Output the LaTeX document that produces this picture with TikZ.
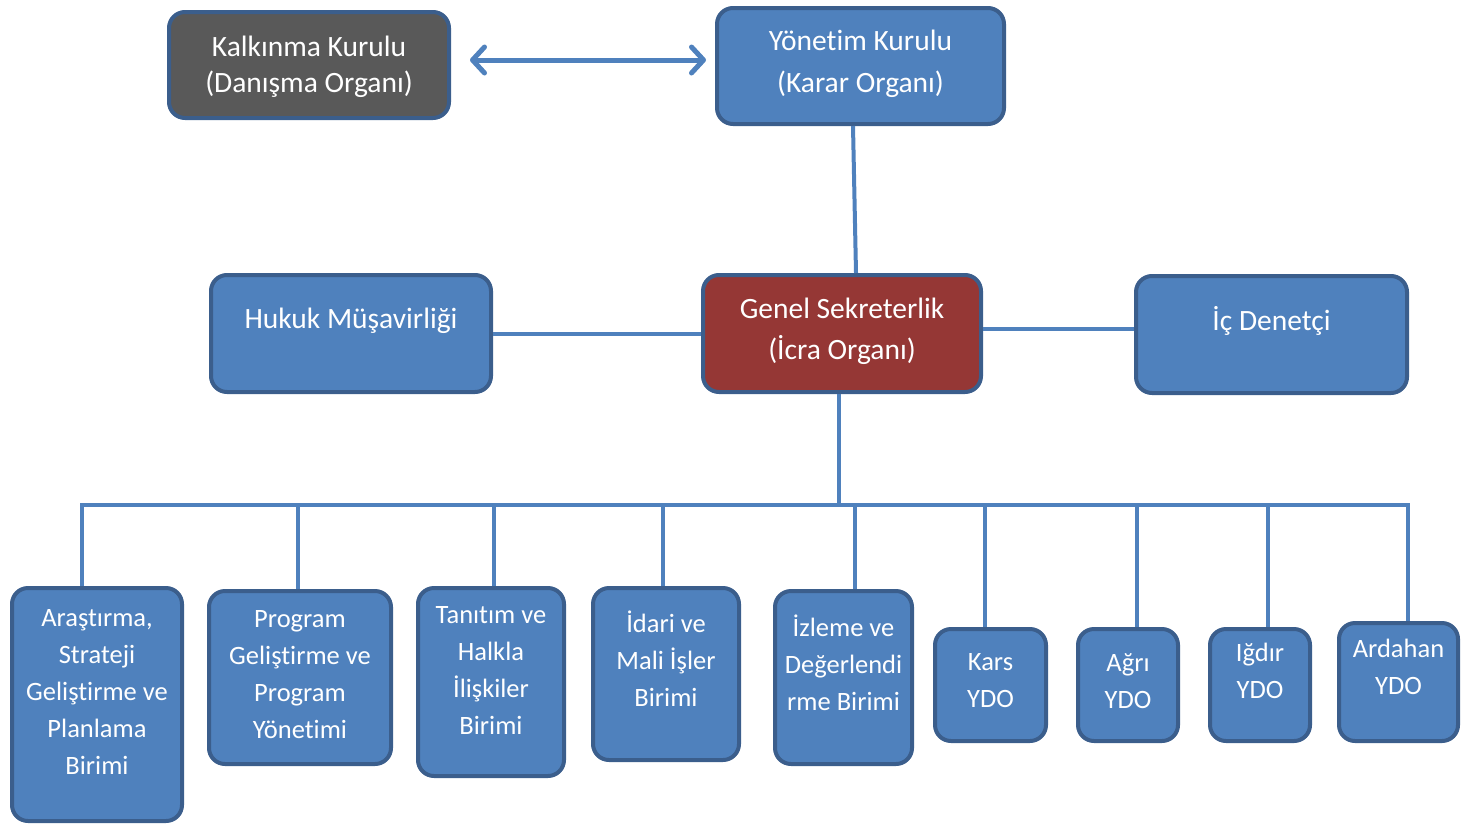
\documentclass[tikz,border=0pt]{standalone}
\usepackage{fontspec}
\setmainfont{Carlito}[Ligatures={NoCommon}]
\usetikzlibrary{arrows.meta}

\definecolor{kutumavi}{HTML}{4F81BD}
\definecolor{kenar}{HTML}{3B5E8C}
\definecolor{kirmizi}{HTML}{953735}
\definecolor{gri}{HTML}{595959}

\tikzset{
  kutu/.style={draw=kenar, line width=4pt, fill=kutumavi, rounded corners=16pt, inner sep=0pt},
  yazi/.style={text=white, align=center, font=\fontsize{26.5}{37}\selectfont},
  ustyazi/.style={yazi, font=\fontsize{29.5}{#1}\selectfont},
  hat/.style={draw=kutumavi, line width=4pt},
  cift/.style={draw=kutumavi, line width=5pt, line cap=round,
    >={Straight Barb[length=12pt,width=26pt,round]}, <->},
}

\begin{document}
\begin{tikzpicture}[x=1pt,y=-1pt]
    \useasboundingbox (0,0) rectangle (1474,825);

    % Kurullar
    \node[kutu, fill=gri, minimum width=280, minimum height=106,
      label={[ustyazi=36, yshift=-2]center:{Kalkınma Kurulu\\(Danışma Organı)}}] (kalkinma) at (309,65) {};
    \node[kutu, minimum width=287, minimum height=116,
      label={[ustyazi=42, yshift=2]center:{Yönetim Kurulu\\(Karar Organı)}}] (yonetim) at (860.5,66) {};
    \draw[cift] ([xshift=19,yshift=5]kalkinma.east) -- ([xshift=-9,yshift=5]kalkinma.east -| yonetim.west);

    % Genel sekreterlik ve yanındakiler
    \node[kutu, fill=kirmizi, minimum width=278, minimum height=117,
      label={[ustyazi=41, yshift=2]center:{Genel Sekreterlik\\(İcra Organı)}}] (genel) at (842,333.5) {};
    \node[kutu, minimum width=280, minimum height=117,
      label={[ustyazi=36, yshift=13]center:Hukuk Müşavirliği}] (hukuk) at (351,333.5) {};
    \node[kutu, minimum width=271, minimum height=117,
      label={[ustyazi=36, yshift=14]center:İç Denetçi}] (denetci) at (1271.5,334.5) {};

    \draw[hat] (853,0 |- yonetim.south) -- (856,0 |- genel.north);
    \draw[hat] (hukuk.east) -- (genel.west);
    \draw[hat] ([yshift=5]genel.east) -- ([yshift=5]genel.east -| denetci.west);

    % Birimler
    \draw[hat] (839,0 |- genel.south) -- (839,505);
    \draw[hat, line cap=rect] (82,505) -- (1408,505);
    \foreach \ad/\cx/\cy/\w/\h/\ys/\bx/\metin in {
        ars/97/704.5/170/233/13/82/{Araştırma,\\Strateji\\Geliştirme ve\\Planlama\\Birimi},
        prg/300/677.5/182/173/3/298/{Program\\Geliştirme ve\\Program\\Yönetimi},
        tan/491/682/146/188/12/494/{Tanıtım ve\\Halkla\\İlişkiler\\Birimi},
        ida/666/674/146/172/15/663/{İdari ve\\Mali İşler\\Birimi},
        izl/843.5/677.5/137/173/15/855/{İzleme ve\\Değerlendi\\rme Birimi},
        kar/990.5/685/111/112/4/985/{Kars\\YDO},
        agr/1128/685/100/112/4/1137/{Ağrı\\YDO},
        igd/1260/685/100/112/14/1268/{Iğdır\\YDO},
        ard/1398.5/682/119/118/15/1408/{Ardahan\\YDO}}
    {
        \node[kutu, minimum width=\w, minimum height=\h,
          label={[yazi, yshift=\ys]center:{\metin}}] (\ad) at (\cx,\cy) {};
        \draw[hat] (\bx,505) -- (\bx,0 |- \ad.north);
    }
\end{tikzpicture}
\end{document}
